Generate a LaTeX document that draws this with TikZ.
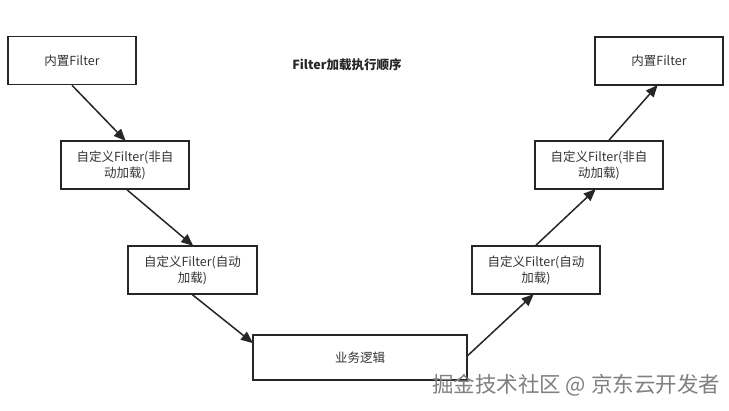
\documentclass[tikz,border=0pt]{standalone}
\usepackage{fontspec}
\setmainfont{Noto Sans CJK SC}
\usetikzlibrary{arrows.meta}
\begin{document}
\begin{tikzpicture}[x=1pt,y=-1pt,
  box/.style={draw=black!85,line width=1.6pt,rectangle,align=center,
    font=\fontsize{12.5}{16}\selectfont,text=black!80,inner sep=0pt,
    minimum width=#1,minimum height=48pt},
  box/.default=128pt,
  conn/.style={draw=black!85,line width=1.5pt,
    -{Triangle[length=12pt,width=10pt]},shorten >=-1pt}]
\useasboundingbox[fill=white] (0,0) rectangle (729,411);
\node[box] (a) at (72,60.5) {内置Filter};
\node[box] (b) at (125,165) {自定义Filter(非自\\动加载)};
\node[box=129pt] (c) at (192.5,270) {自定义Filter(自动\\加载)};
\node[box=214pt,minimum height=45pt] (d) at (360,357.5) {业务逻辑};
\node[box] (e) at (536,270) {自定义Filter(自动\\加载)};
\node[box] (f) at (599,165) {自定义Filter(非自\\动加载)};
\node[box] (g) at (659,61) {内置Filter};
\node[font=\fontsize{12.5}{15}\selectfont\bfseries,text=black!85] (title) at (347,65) {Filter加载执行顺序};
\node[font=\fontsize{21.5}{24}\selectfont,text=black!50,anchor=west,inner sep=0pt] (wm) at (432,385) {掘金技术社区 @ 京东云开发者};
\draw[conn] (a.south) -- (b.north);
\draw[conn] ([xshift=2pt]b.south) -- (c.north);
\draw[conn] (c.south) -- ([yshift=15pt]d.west);
\draw[conn] ([yshift=2pt]d.east) -- ([xshift=-3pt]e.south);
\draw[conn] (e.north) -- ([xshift=-4pt]f.south);
\draw[conn] ([xshift=10pt]f.north) -- ([xshift=-2pt]g.south);
\end{tikzpicture}
\end{document}
